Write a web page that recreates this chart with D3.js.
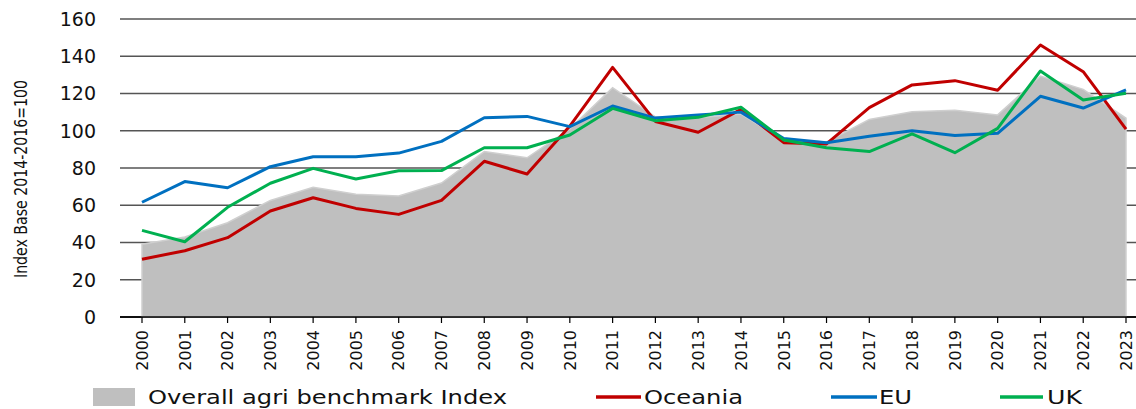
<!DOCTYPE html>
<html>
<head>
<meta charset="utf-8">
<script src="https://cdn.jsdelivr.net/npm/d3@7"></script>
<style>
	body { margin: 0; background: #fff; }
	svg { display: block; }
</style>
</head>
<body>
<svg id="chart" width="1136" height="409"></svg>
<script>

var years		= d3.range(2000, 2024);
var benchmark	= [39, 43, 50.6, 62.6, 69.6, 65.9, 65, 71.9, 88.8, 85.5, 101, 123.1, 107.5, 107, 109,
				   95, 94, 106.1, 110.2, 111, 108.5, 129.4, 122.2, 106.7];
var oceania		= [31, 35.6, 42.6, 56.9, 64, 58.3, 55.1, 62.6, 83.6, 76.8, 102.5, 134, 105, 99.2, 111.5,
				   93.6, 92.9, 112.4, 124.6, 126.9, 121.7, 146, 131.7, 100.9];
var eu			= [61.6, 72.7, 69.4, 80.7, 86, 86, 88, 94.3, 107, 107.7, 102.2, 113.3, 106.8, 108.5, 110,
				   95.8, 93.6, 97, 100, 97.5, 98.6, 118.5, 112.2, 121.9];
var uk			= [46.5, 40.4, 58.9, 71.8, 79.8, 74.1, 78.5, 78.6, 90.9, 90.9, 97.7, 112, 105.4, 107.2, 112.6,
				   95, 90.9, 88.8, 98.3, 88.2, 101.3, 132.1, 116.5, 120.1];
var yTicks		= [0, 20, 40, 60, 80, 100, 120, 140, 160];

var svg = d3.select('#chart');

var x = d3.scaleLinear().domain([2000, 2023]).range([142, 1126]);
var y = d3.scaleLinear().domain([0, 160]).range([317, 19]);

// gridlines
svg.append("g")
	.selectAll("line")
	.data(yTicks)
	.join("line")
		.attr("x1", 120)
		.attr("x2", 1136)
		.attr("y1", function(d) { return y(d); })
		.attr("y2", function(d) { return y(d); })
		.attr("stroke", function(d) { return d == 0 ? "#000" : "#555"; })
		.attr("stroke-width", 1.5);

// y labels
svg.append("g")
	.selectAll("text")
	.data(yTicks)
	.join("text")
		.attr("x", 96)
		.attr("y", function(d) { return y(d); })
		.attr("dy", "0.36em")
		.attr("text-anchor", "end")
		.attr("font-family", "DejaVu Sans")
		.attr("font-size", 19)
		.attr("fill", "#111")
		.text(function(d) { return d; });

svg.append("text")
	.attr("transform", "translate(27,179) rotate(-90)")
	.attr("text-anchor", "middle")
	.attr("font-family", "DejaVu Sans Condensed, DejaVu Sans")
	.attr("font-size", 17)
	.attr("textLength", 198)
	.attr("lengthAdjust", "spacingAndGlyphs")
	.attr("fill", "#111")
	.text("Index Base 2014-2016=100");

// benchmark area
var area = d3.area()
	.x(function(d, i) { return x(years[i]); })
	.y0(y(0))
	.y1(function(d) { return y(d); });

svg.append("path")
	.datum(benchmark)
	.attr("d", area)
	.attr("fill", "#bfbfbf")
	.attr("stroke", "#cfcfcf")
	.attr("stroke-width", 1.5);

// x axis line + ticks
svg.append("line")
	.attr("x1", 120).attr("x2", 1136)
	.attr("y1", y(0)).attr("y2", y(0))
	.attr("stroke", "#000").attr("stroke-width", 1.5);

svg.append("g")
	.selectAll("line")
	.data(years)
	.join("line")
		.attr("x1", function(d) { return x(d); })
		.attr("x2", function(d) { return x(d); })
		.attr("y1", y(0))
		.attr("y2", y(0) + 6)
		.attr("stroke", "#000")
		.attr("stroke-width", 1.2);

svg.append("g")
	.selectAll("text")
	.data(years)
	.join("text")
		.attr("transform", function(d) { return "translate(" + x(d) + ",330) rotate(-90)"; })
		.attr("text-anchor", "end")
		.attr("dy", "0.36em")
		.attr("font-family", "DejaVu Sans")
		.attr("font-size", 16)
		.attr("fill", "#111")
		.text(function(d) { return d; });

// lines
var line = d3.line()
	.x(function(d, i) { return x(years[i]); })
	.y(function(d) { return y(d); });

var series = [
	{ name: "Oceania", values: oceania, color: "#c00000" },
	{ name: "EU", values: eu, color: "#0070c0" },
	{ name: "UK", values: uk, color: "#00b050" }
];

series.forEach(function(s) {
	svg.append("path")
		.datum(s.values)
		.attr("d", line)
		.attr("fill", "none")
		.attr("stroke", s.color)
		.attr("stroke-width", 3)
		.attr("stroke-linejoin", "round");
});

// legend
var legendY = 397;
var legend = svg.append("g").attr("font-family", "DejaVu Sans").attr("font-size", 20).attr("fill", "#111");

legend.append("rect")
	.attr("x", 93).attr("y", legendY - 9)
	.attr("width", 42).attr("height", 18)
	.attr("fill", "#bfbfbf");

legend.append("text")
	.attr("x", 148).attr("y", legendY).attr("dy", "0.36em")
	.attr("textLength", 359).attr("lengthAdjust", "spacingAndGlyphs")
	.text("Overall agri benchmark Index");

var legendPos = [
	{ x1: 596, x2: 641, tx: 644, tw: 99 },
	{ x1: 831, x2: 877, tx: 879, tw: 33 },
	{ x1: 1000, x2: 1043, tx: 1047, tw: 35 }
];

series.forEach(function(s, i) {
	var p = legendPos[i];
	legend.append("line")
		.attr("x1", p.x1).attr("x2", p.x2)
		.attr("y1", legendY).attr("y2", legendY)
		.attr("stroke", s.color).attr("stroke-width", 3.5);
	legend.append("text")
		.attr("x", p.tx).attr("y", legendY).attr("dy", "0.36em")
		.attr("textLength", p.tw).attr("lengthAdjust", "spacingAndGlyphs")
		.text(s.name);
});

</script>
</body>
</html>
